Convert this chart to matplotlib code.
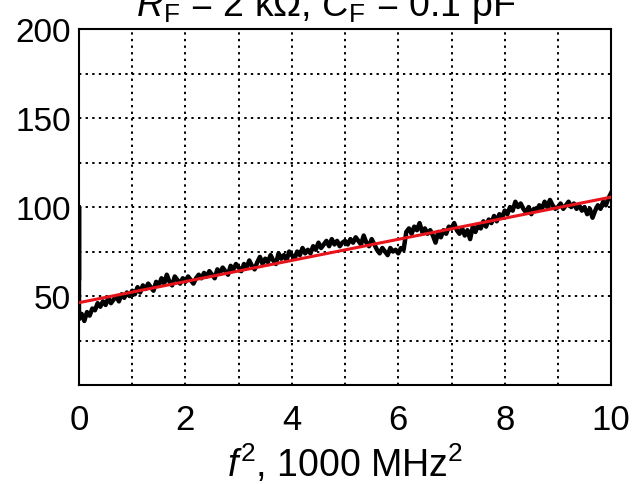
import numpy as np
import matplotlib
matplotlib.use("Agg")
import matplotlib.pyplot as plt
from matplotlib.ticker import MultipleLocator

plt.rcParams['font.family'] = ['Liberation Sans', 'DejaVu Sans']
plt.rcParams['mathtext.fontset'] = 'custom'
plt.rcParams['mathtext.rm'] = 'Liberation Sans'
plt.rcParams['mathtext.it'] = 'Liberation Sans:italic'

spike_x = [0, 0, 0, 0]
spike_y = [60, 100, 70, 40]
trace_y = [
    37, 40, 36, 41, 39, 43, 42, 46, 44, 47, 45, 49, 46, 48, 50, 47, 51, 49, 52, 50,
    53, 51, 55, 52, 56, 54, 57, 55, 53, 58, 56, 60, 57, 62, 58, 56, 61, 59, 57, 60,
    58, 61, 59, 57, 60, 62, 60, 63, 61, 64, 62, 60, 65, 63, 66, 64, 62, 67, 65, 68,
    66, 64, 68, 66, 70, 67, 65, 69, 72, 68, 71, 69, 73, 70, 68, 74, 71, 73, 70, 75,
    73, 71, 75, 73, 77, 74, 76, 74, 78, 76, 80, 77, 79, 81, 78, 82, 79, 81, 78, 80,
    81, 79, 82, 80, 83, 81, 79, 84, 80, 78, 82, 79, 76, 74, 77, 75, 73, 77, 75, 76,
    74, 77, 76, 86, 88, 85, 89, 87, 91, 86, 88, 85, 87, 84, 80, 86, 83, 87, 85, 89,
    88, 91, 87, 85, 88, 84, 87, 82, 89, 86, 90, 88, 92, 89, 93, 91, 95, 92, 96, 94,
    98, 96, 100, 98, 103, 100, 102, 99, 97, 100, 96, 99, 98, 101, 99, 103, 100, 104, 101, 99,
    100, 102, 99, 101, 103, 100, 102, 99, 101, 98, 100, 96, 99, 94, 98, 101, 99, 103, 101, 105,
    108,
]
trace_x = np.linspace(0, 10, len(trace_y))

# linear fit
fit_x = [0, 10]
fit_y = [46.3, 105.6]

fig = plt.figure(figsize=(6.32, 4.85), dpi=100)
ax = fig.add_axes([0.125, 0.204, 0.842, 0.734])

ax.plot(np.concatenate([spike_x, trace_x]), np.concatenate([spike_y, trace_y]),
        color='black', lw=3.2, solid_joinstyle='round', zorder=3)
ax.plot(fit_x, fit_y, color='#e8141c', lw=2.2, zorder=4)

ax.set_xlim(0, 10)
ax.set_ylim(0, 200)
ax.xaxis.set_major_locator(MultipleLocator(2))
ax.xaxis.set_minor_locator(MultipleLocator(1))
ax.yaxis.set_major_locator(MultipleLocator(50))
ax.yaxis.set_minor_locator(MultipleLocator(25))
ax.set_yticks([50, 100, 150, 200])
ax.grid(which='both', color='black', linestyle=(0, (1.2, 2.2)), lw=1.4)
ax.tick_params(which='both', length=0)
ax.tick_params(axis='x', pad=13, labelsize=25)
ax.tick_params(axis='y', pad=6, labelsize=24)
for s in ax.spines.values():
    s.set_linewidth(1.5)

ax.set_xlabel(r'$f^2$, 1000 MHz$^2$', fontsize=27, labelpad=4)

fig.text(0.516, 1 - 16 / 485, r'$R_\mathrm{F}$ = 2 k$\Omega$, $C_\mathrm{F}$ = 0.1 pF',
         ha='center', va='baseline', fontsize=27)

fig.savefig('out.png', dpi=100)
